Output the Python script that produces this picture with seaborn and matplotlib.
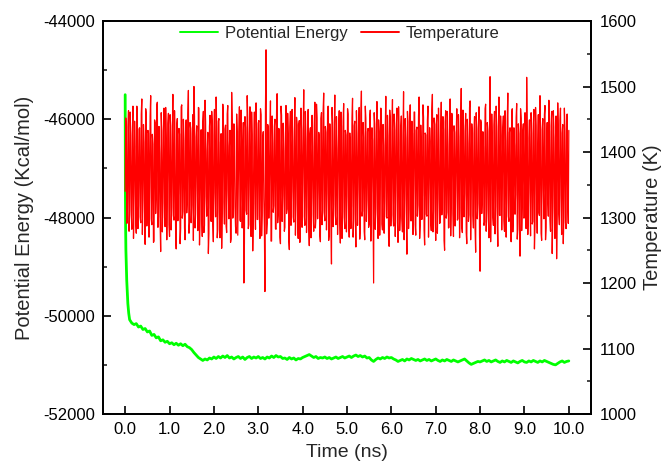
import numpy as np
import pandas as pd
import matplotlib
matplotlib.use("Agg")
import matplotlib.pyplot as plt
import seaborn as sns
from matplotlib.ticker import MultipleLocator, FormatStrFormatter, FixedLocator
from matplotlib.lines import Line2D

# ---------------- data ----------------
# Temperature (K): samples on the 0.025 ns grid (0 .. 10 ns)
temperature_a = [
    1340, 1442, 1298, 1463, 1310, 1425, 1282, 1470, 1335, 1408, 1276, 1452, 1318, 1437, 1292, 1481, 1326, 1415, 1259, 1458,
    1305, 1429, 1347, 1486, 1289, 1412, 1264, 1445, 1331, 1476, 1301, 1398, 1248, 1433, 1322, 1467, 1286, 1421, 1343, 1459,
    1271, 1440, 1315, 1488, 1296, 1404, 1252, 1451, 1337, 1427, 1283, 1472, 1309, 1418, 1266, 1449, 1328, 1494, 1292, 1436,
    1319, 1457, 1500, 1284, 1423, 1345, 1468, 1258, 1411, 1303, 1446, 1277, 1479, 1332, 1402, 1245, 1439, 1314, 1462, 1290,
    1426, 1338, 1484, 1269, 1447, 1308, 1415, 1253, 1473, 1324, 1435, 1287, 1458, 1341, 1409, 1262, 1491, 1299, 1443, 1317,
    1276, 1431, 1352, 1469, 1294, 1419, 1330, 1200, 1454, 1311, 1486, 1283, 1428, 1336, 1461, 1249, 1407, 1321, 1475, 1297,
    1444, 1303, 1466, 1272, 1421, 1329, 1187, 1556, 1291, 1438, 1345, 1478, 1264, 1413, 1318, 1450, 1282, 1489, 1307, 1432,
    1260, 1456, 1334, 1403, 1285, 1471, 1313, 1427, 1251, 1462, 1340, 1417, 1293, 1483, 1322, 1441, 1268, 1448, 1305, 1434,
    1349, 1495, 1288, 1420, 1316, 1465, 1257, 1437, 1330, 1408, 1279, 1476, 1301, 1452, 1342, 1424, 1263, 1460, 1311, 1490,
    1295, 1430, 1337, 1470, 1274, 1416, 1229, 1445, 1320, 1487, 1289, 1405, 1346, 1463, 1261, 1439, 1309, 1474, 1283, 1426,
    1332, 1458, 1270, 1412, 1318, 1482, 1297, 1447, 1255, 1429, 1343, 1468, 1286, 1493, 1310, 1422, 1266, 1451, 1327, 1436,
    1290, 1464, 1339, 1418, 1200, 1443, 1314, 1477, 1268, 1431, 1348, 1459, 1281, 1410, 1325, 1485, 1299, 1425, 1256, 1450,
    1316, 1480, 1287, 1433, 1341, 1467, 1262, 1414, 1306, 1455, 1278, 1492, 1329, 1421, 1244, 1446, 1313, 1472, 1295, 1428,
    1350, 1461, 1273, 1438, 1319, 1484, 1289, 1409, 1334, 1453, 1258, 1426, 1302, 1470, 1345, 1416, 1280, 1488, 1312, 1442,
    1265, 1457, 1327, 1419, 1292, 1476, 1338, 1434, 1250, 1463, 1308, 1411, 1285, 1481, 1323, 1449, 1271, 1430, 1344, 1466,
    1298, 1423, 1315, 1497, 1277, 1440, 1336, 1459, 1260, 1413, 1304, 1478, 1342, 1427, 1284, 1454, 1247, 1435, 1321, 1469,
    1218, 1445, 1331, 1408, 1293, 1473, 1310, 1432, 1269, 1515, 1340, 1420, 1288, 1462, 1317, 1439, 1256, 1484, 1303, 1425,
    1346, 1455, 1279, 1417, 1326, 1490, 1294, 1437, 1263, 1466, 1312, 1410, 1335, 1474, 1282, 1428, 1241, 1451, 1319, 1443,
    1300, 1431, 1514, 1274, 1421, 1338, 1460, 1290, 1444, 1252, 1468, 1325, 1412, 1307, 1486, 1276, 1434, 1343, 1457, 1266,
    1415, 1328, 1479, 1297, 1440, 1245, 1463, 1316, 1422, 1237, 1475, 1305, 1448, 1334, 1429, 1260, 1467, 1292, 1438, 1320,
    1433,
]
# Temperature (K): samples in between (0.0125, 0.0375, ... ns)
temperature_b = [
    1452, 1291, 1438, 1279, 1461, 1304, 1429, 1268, 1447, 1296, 1470, 1283, 1435, 1301, 1458, 1274, 1442, 1309, 1466, 1287,
    1433, 1270, 1455, 1298, 1427, 1262, 1449, 1306, 1472, 1285, 1439, 1293, 1460, 1278, 1431, 1300, 1468, 1266, 1444, 1289,
    1457, 1281, 1426, 1303, 1463, 1272, 1441, 1295, 1436, 1260, 1469, 1299, 1450, 1284, 1432, 1307, 1459, 1276, 1445, 1292,
    1428, 1265, 1454, 1305, 1440, 1280, 1467, 1297, 1434, 1271, 1462, 1288, 1446, 1302, 1430, 1275, 1456, 1294, 1443, 1263,
    1465, 1301, 1437, 1282, 1451, 1269, 1428, 1306, 1460, 1290, 1441, 1277, 1471, 1298, 1433, 1267, 1448, 1304, 1439, 1286,
    1458, 1273, 1430, 1296, 1464, 1284, 1445, 1261, 1437, 1305, 1452, 1289, 1469, 1271, 1426, 1300, 1461, 1282, 1434, 1297,
    1448, 1268, 1457, 1303, 1431, 1287, 1466, 1275, 1442, 1299, 1427, 1264, 1455, 1308, 1439, 1283, 1463, 1292, 1436, 1270,
    1470, 1294, 1444, 1279, 1429, 1306, 1459, 1266, 1438, 1288, 1465, 1301, 1432, 1273, 1453, 1296, 1441, 1262, 1467, 1285,
    1435, 1302, 1462, 1277, 1446, 1291, 1428, 1269, 1456, 1305, 1440, 1284, 1473, 1298, 1430, 1272, 1451, 1289, 1464, 1307,
    1439, 1281, 1458, 1265, 1443, 1296, 1468, 1286, 1427, 1303, 1454, 1274, 1436, 1293, 1461, 1268, 1447, 1300, 1433, 1278,
    1466, 1297, 1429, 1283, 1452, 1270, 1440, 1306, 1463, 1288, 1434, 1267, 1457, 1302, 1445, 1279, 1470, 1294, 1431, 1285,
    1453, 1264, 1437, 1299, 1460, 1282, 1428, 1305, 1449, 1273, 1467, 1290, 1442, 1276, 1435, 1301, 1456, 1269, 1464, 1287,
    1430, 1304, 1458, 1271, 1444, 1292, 1469, 1280, 1438, 1298, 1426, 1266, 1451, 1307, 1462, 1283, 1436, 1295, 1447, 1274,
    1461, 1289, 1433, 1302, 1455, 1268, 1441, 1297, 1472, 1281, 1429, 1305, 1448, 1270, 1437, 1293, 1465, 1278, 1452, 1300,
    1442, 1276, 1467, 1291, 1430, 1304, 1454, 1265, 1446, 1299, 1462, 1284, 1434, 1272, 1459, 1306, 1440, 1287, 1427, 1296,
    1457, 1269, 1439, 1285, 1464, 1301, 1432, 1277, 1450, 1294, 1468, 1266, 1443, 1303, 1428, 1282, 1460, 1298, 1437, 1273,
    1449, 1306, 1431, 1288, 1466, 1279, 1445, 1297, 1435, 1263, 1458, 1300, 1441, 1275, 1470, 1292, 1429, 1304, 1455, 1281,
    1438, 1295, 1463, 1270, 1447, 1302, 1430, 1286, 1459, 1278, 1437, 1305, 1452, 1267, 1443, 1293, 1466, 1280, 1432, 1299,
    1460, 1283, 1436, 1307, 1449, 1272, 1428, 1294, 1465, 1287, 1440, 1276, 1457, 1303, 1434, 1265, 1451, 1298, 1471, 1284,
    1445, 1302, 1431, 1279, 1462, 1296, 1438, 1268, 1455, 1305, 1429, 1289, 1467, 1274, 1442, 1300, 1433, 1283, 1458, 1291,
]
temperature = []
for a_val, b_val in zip(temperature_a[:-1], temperature_b):
    temperature += [a_val, b_val]
temperature.append(temperature_a[-1])
temp_time = np.linspace(0.0, 10.0, len(temperature))

# Potential energy (Kcal/mol): fast initial drop, then every 0.05 ns from 0.10 ns
energy_time_head = [0.0, 0.002, 0.005, 0.010, 0.016, 0.035, 0.060, 0.080]
energy_head = [-45500, -46400, -47500, -48200, -48660, -49280, -49750, -49950]
energy_tail = [
    -50080, -50150, -50180, -50160, -50230, -50210, -50280, -50260, -50330, -50310,
    -50400, -50380, -50450, -50430, -50510, -50490, -50540, -50520, -50570, -50550,
    -50590, -50560, -50600, -50570, -50610, -50580, -50630, -50650, -50690, -50750,
    -50800, -50850, -50880, -50910, -50880, -50900, -50860, -50880, -50840, -50870,
    -50830, -50860, -50820, -50850, -50810, -50860, -50840, -50880, -50850, -50830,
    -50870, -50840, -50890, -50850, -50830, -50870, -50840, -50860, -50830, -50870,
    -50850, -50880, -50840, -50860, -50820, -50850, -50810, -50840, -50830, -50870,
    -50860, -50890, -50850, -50880, -50860, -50900, -50870, -50880, -50850, -50830,
    -50810, -50790, -50820, -50850, -50830, -50870, -50850, -50860, -50840, -50870,
    -50850, -50880, -50860, -50840, -50870, -50850, -50830, -50860, -50840, -50820,
    -50850, -50820, -50800, -50830, -50810, -50840, -50820, -50860, -50850, -50900,
    -50930, -50890, -50860, -50880, -50850, -50870, -50840, -50860, -50850, -50880,
    -50900, -50930, -50910, -50890, -50920, -50880, -50900, -50870, -50890, -50910,
    -50890, -50920, -50900, -50880, -50910, -50890, -50920, -50900, -50880, -50910,
    -50930, -50900, -50920, -50890, -50910, -50930, -50900, -50920, -50940, -50920,
    -50900, -50880, -50920, -50960, -50990, -50970, -50950, -50930, -50940, -50920,
    -50900, -50930, -50910, -50940, -50920, -50900, -50930, -50950, -50920, -50940,
    -50910, -50930, -50950, -50920, -50940, -50960, -50930, -50910, -50940, -50950,
    -50920, -50940, -50910, -50930, -50950, -50920, -50940, -50910, -50930, -50950,
    -50970, -50990, -51000, -50970, -50940, -50920, -50950, -50930, -50920,
]
energy_time = energy_time_head + list(np.linspace(0.10, 10.0, len(energy_tail)))
energy = energy_head + energy_tail

x_ticks = [0, 1, 2, 3, 4, 5, 6, 7, 8, 9, 10]
series_labels = ["Potential Energy", "Temperature"]
green = "#00ff00"
red = "#ff0000"

df_e = pd.DataFrame({"time": energy_time, "energy": energy})
df_t = pd.DataFrame({"time": temp_time, "temp": temperature})

# ---------------- figure ----------------
sns.set_theme(style="white")
plt.rcParams['font.family'] = ['Liberation Sans', 'DejaVu Sans']

fig = plt.figure(figsize=(6.62, 4.61), dpi=100)
ax = fig.add_axes([103 / 662, 1 - 414 / 461, (591 - 103) / 662, (414 - 21) / 461])

sns.lineplot(data=df_e, x="time", y="energy", ax=ax, color=green, lw=2.0,
             estimator=None, sort=False, legend=False)
ax2 = ax.twinx()
sns.lineplot(data=df_t, x="time", y="temp", ax=ax2, color=red, lw=0.9,
             estimator=None, sort=False, legend=False)

ax.set_xlim(-0.5, 10.5)
ax.set_ylim(-52000, -44000)
ax2.set_ylim(1000, 1600)

ax.xaxis.set_major_locator(FixedLocator(x_ticks))
ax.xaxis.set_major_formatter(FormatStrFormatter("%.1f"))
ax.yaxis.set_major_locator(MultipleLocator(2000))
ax.yaxis.set_minor_locator(MultipleLocator(1000))
ax.yaxis.set_major_formatter(FormatStrFormatter("%d"))
ax2.yaxis.set_major_locator(MultipleLocator(100))
ax2.yaxis.set_minor_locator(MultipleLocator(50))

for a in (ax, ax2):
    for s in a.spines.values():
        s.set_color("black")
        s.set_linewidth(1.3)
    a.tick_params(which="major", direction="in", length=6, width=1.2, labelsize=12,
                  pad=6, colors="black")
    a.tick_params(which="minor", direction="in", length=3, width=1.2)
ax.tick_params(axis="x", which="minor", bottom=False)
ax.tick_params(axis="y", left=True, which="both")
ax.tick_params(axis="x", bottom=True)
ax2.tick_params(axis="y", right=True, which="both")

ax.set_xlabel("Time (ns)", fontsize=14, labelpad=5)
ax.set_ylabel("Potential Energy (Kcal/mol)", fontsize=14.5, labelpad=6)
ax2.set_ylabel("Temperature (K)", fontsize=14.5, labelpad=5)

handles = [Line2D([], [], color=green, lw=1.4), Line2D([], [], color=red, lw=1.4)]
fig.legend(handles, series_labels, loc="center", bbox_to_anchor=(339.5 / 662, 1 - 33 / 461),
           ncol=2, frameon=False, fontsize=12, handlelength=2.3, handletextpad=0.4,
           columnspacing=0.8)

fig.savefig("out.png", dpi=100)
